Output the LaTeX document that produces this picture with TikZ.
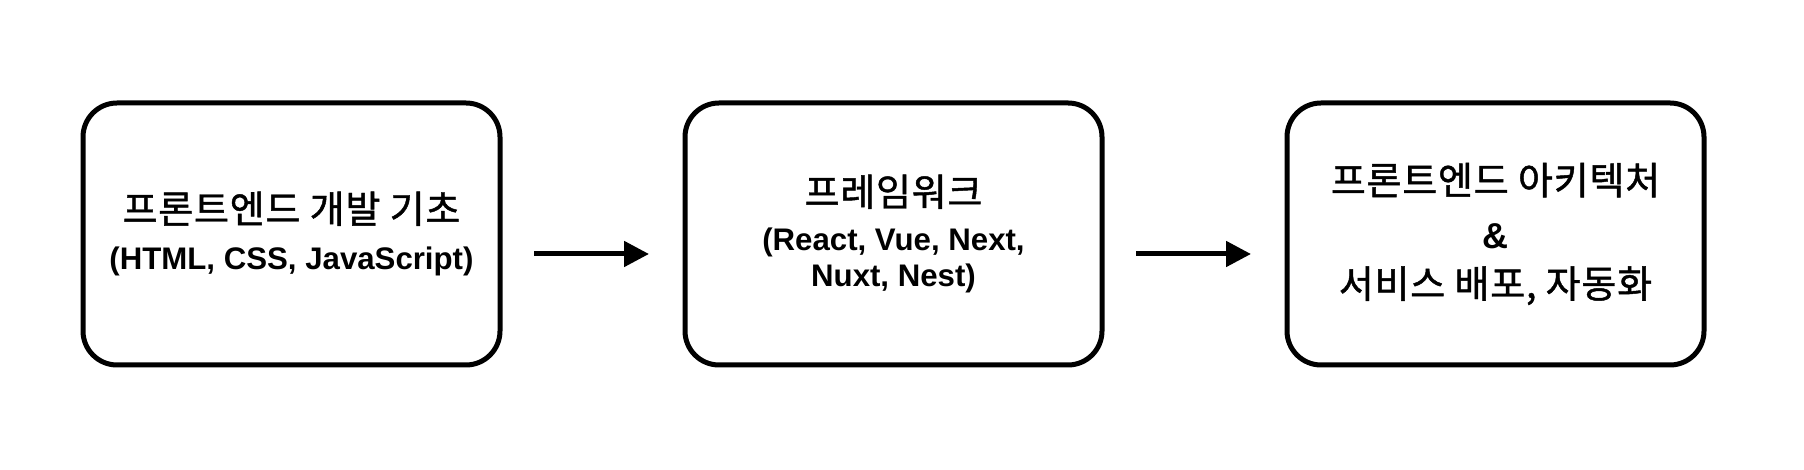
\documentclass[tikz,border=0pt]{standalone}
\usepackage{fontspec}
\setmainfont{Liberation Sans}
\newfontfamily\kr[FakeBold=1.2,LetterSpace=2]{Noto Sans CJK KR}
\usetikzlibrary{positioning,arrows.meta}

% Stufen und Pfeile
\tikzset{
  stage/.style={draw=black, line width=2.5pt, rounded corners=17pt,
    minimum width=208.5pt, minimum height=131pt, align=center,
    outer sep=0pt, font=\fontsize{15.6}{18}\selectfont\bfseries},
  flow/.style={line width=2.5pt, -{Triangle[length=12.5pt,width=12.5pt]},
    shorten <=17pt, shorten >=18pt},
}
\newcommand{\hangul}[1]{{\kr\mdseries\fontsize{19}{18}\selectfont #1}}

\begin{document}
\begin{tikzpicture}
  \useasboundingbox (0,0) rectangle (902pt,235pt);

  % Drei Stufen
  \node[stage] (basics) at (145.75pt,118pt)
    {\hangul{프론트엔드 개발 기초}\\[5.5pt](HTML, CSS, JavaScript)};
  \node[stage, right=92.5pt of basics] (framework)
    {\hangul{프레임워크}\\[4.5pt](React, Vue, Next,\\Nuxt, Nest)};
  \node[stage, right=92.5pt of framework] (arch)
    {\hangul{프론트엔드 아키텍처}\\[9pt]{\fontsize{18}{18}\selectfont\&}\\[6.7pt]\hangul{서비스 배포, 자동화}};

  % Pfeile (etwas unter der Mitte)
  \draw[flow] ([yshift=-10pt]basics.east) -- ([yshift=-10pt]framework.west);
  \draw[flow] ([yshift=-10pt]framework.east) -- ([yshift=-10pt]arch.west);
\end{tikzpicture}
\end{document}
